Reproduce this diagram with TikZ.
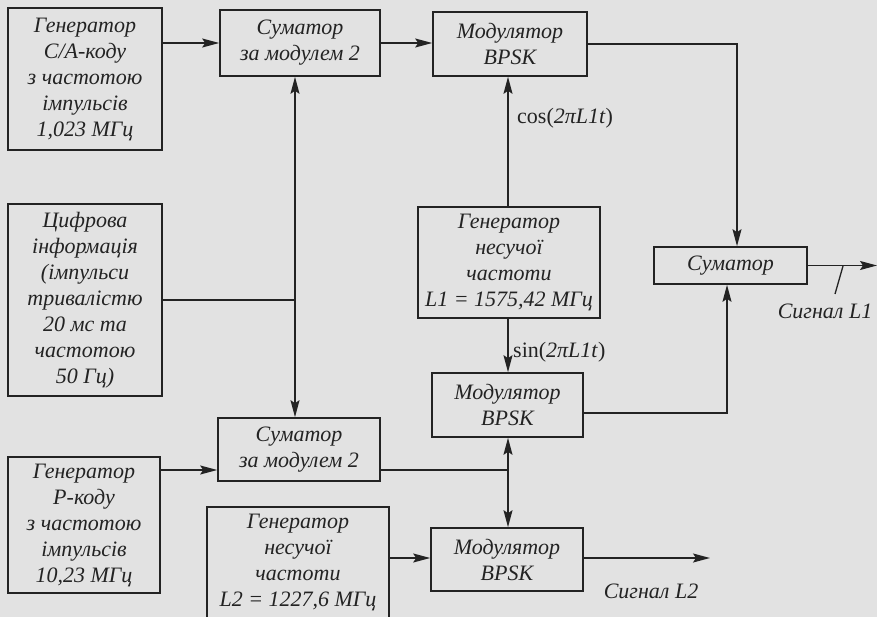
\documentclass[tikz,border=0pt]{standalone}
\usepackage{fontspec}
\setmainfont{Liberation Serif}
\usetikzlibrary{arrows.meta}
\definecolor{bg}{RGB}{226,226,226}
\definecolor{ink}{RGB}{35,35,35}
\begin{document}
\begin{tikzpicture}[x=1pt,y=-1pt,
 box/.style={draw=ink, line width=1.6pt, text=ink, align=center, inner sep=0pt, font=\fontsize{22}{26}\selectfont\itshape},
 wire/.style={draw=ink, line width=1.6pt},
 arr/.style={wire, -{Stealth[length=17pt,width=9pt,inset=3pt]}},
 lbl/.style={text=ink, inner sep=0pt, font=\fontsize{22}{26}\selectfont},
 ilbl/.style={lbl, font=\fontsize{22}{26}\selectfont\itshape}]
\fill[bg] (0,0) rectangle (877,617);
\useasboundingbox (0,0) rectangle (877,617);

\node[box, minimum width=154pt, minimum height=142pt] (gca) at (85,79) {Генератор\\C/A-коду\\з частотою\\імпульсів\\1,023 МГц};
\node[box, minimum width=160pt, minimum height=66pt] (sum1) at (300,43) {Суматор\\за модулем 2};
\node[box, minimum width=154pt, minimum height=64pt] (mod1) at (510,44) {Модулятор\\BPSK};
\node[box, minimum width=154pt, minimum height=192pt] (info) at (85,300) {Цифрова\\інформація\\(імпульси\\тривалістю\\20 мс та\\частотою\\50 Гц)};
\node[box, minimum width=182pt, minimum height=111pt] (genL1) at (509,262.5) {Генератор\\несучої\\частоти\\L1 = 1575,42 МГц};
\node[box, minimum width=153pt, minimum height=37pt] (sumR) at (730.5,265.5) {Суматор};
\node[box, minimum width=151pt, minimum height=64pt] (mod2) at (507.5,405) {Модулятор\\BPSK};
\node[box, minimum width=162pt, minimum height=63pt] (sum2) at (299,449.5) {Суматор\\за модулем 2};
\node[box, minimum width=152pt, minimum height=136pt] (genP) at (84,525) {Генератор\\P-коду\\з частотою\\імпульсів\\10,23 МГц};
\node[box, minimum width=182pt, minimum height=111pt] (genL2) at (298,562.5) {Генератор\\несучої\\частоти\\L2 = 1227,6 МГц};
\node[box, minimum width=152pt, minimum height=63pt] (mod3) at (507,559.5) {Модулятор\\BPSK};

\coordinate (xa) at (508,0);
\coordinate (xb) at (295,0);
\coordinate (xc) at (727,0);
\coordinate (xd) at (737,0);
\coordinate (ya) at (0,413);
\coordinate (yb) at (0,470);
\coordinate (yc) at (0,558);

\draw[arr] (gca.east |- sum1.west) -- (sum1.west);
\draw[arr] (sum1.east) -- (mod1.west |- sum1.east);
\draw[arr] (mod1.east) -- (mod1.east -| xd) -- (sumR.north -| xd);
\draw[arr] (genL1.north -| xa) -- (mod1.south -| xa);
\node[lbl, anchor=west] (cos) at (517,118) {cos(\textit{2πL1t})};

\draw[wire] (info.east) -- (info.east -| xb);
\draw[arr] (info.east -| xb) -- (sum1.south -| xb);
\draw[arr] (info.east -| xb) -- (sum2.north -| xb);

\draw[arr] (genL1.south -| xa) -- (mod2.north -| xa);
\node[lbl, anchor=west] (sin) at (513,352) {sin(\textit{2πL1t})};

\draw[arr] (mod2.east |- ya) -- (xc |- ya) -- (sumR.south -| xc);

\coordinate (out1) at (877,265.5);
\draw[arr] (sumR.east) -- (out1);
\coordinate (t1) at (843,266);
\coordinate (t2) at (835,294);
\draw[wire, line width=1.3pt] (t1) -- (t2);
\node[ilbl] (s1) at (825,311) {Сигнал L1};

\draw[wire] (sum2.east |- yb) -- (xa |- yb);
\draw[arr] (xa |- yb) -- (mod2.south -| xa);
\draw[arr] (xa |- yb) -- (mod3.north -| xa);
\draw[arr] (genP.east |- yb) -- (sum2.west |- yb);

\draw[arr] (genL2.east |- yc) -- (mod3.west |- yc);
\coordinate (out2) at (710,558);
\draw[arr] (mod3.east |- yc) -- (out2);
\node[ilbl] (s2) at (651,591) {Сигнал L2};
\end{tikzpicture}
\end{document}
